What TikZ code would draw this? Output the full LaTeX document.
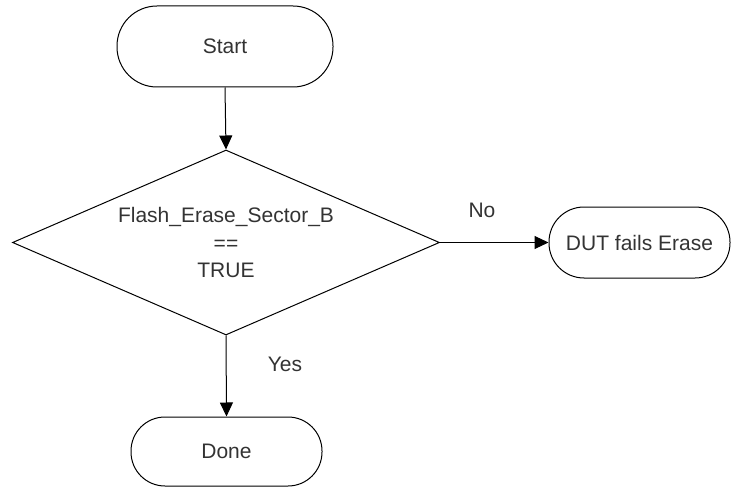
\documentclass[tikz,border=0pt]{standalone}
\usepackage{fontspec}
\setmainfont{Liberation Sans}
\usetikzlibrary{shapes.geometric,arrows.meta}
\definecolor{txt}{HTML}{333333}
\tikzset{
  term/.style={draw=black, line width=1pt, rounded corners=34pt, inner sep=0pt,
    font=\fontsize{21}{25.5}\selectfont, text=txt},
  decide/.style={draw=black, line width=1pt, shape=diamond, aspect=2.31, inner sep=0pt,
    minimum width=427pt, minimum height=185pt, align=center,
    font=\fontsize{21}{27.5}\selectfont, text=txt},
  conn/.style={draw=black, line width=1pt, -{Triangle[length=14pt,width=13pt]}},
  lbl/.style={font=\fontsize{21}{25}\selectfont, text=txt, inner sep=0pt}
}
\begin{document}
\begin{tikzpicture}[x=1pt,y=-1pt]
\useasboundingbox (0,0) rectangle (732,487);
\node[term, minimum width=216pt, minimum height=81pt, rounded corners=40pt] (start) at (225,46.5) {Start};
\node[decide] (dec) at (226,242.5) {Flash\_Erase\_Sector\_B\\==\\TRUE};
\node[term, minimum width=181pt, minimum height=71pt, rounded corners=35pt] (fail) at (639.5,242.5) {DUT fails Erase};
\node[term, minimum width=191pt, minimum height=69pt, rounded corners=34pt] (done) at (226.5,451.5) {Done};
\draw[conn] (start.south) -- (dec.north);
\draw[conn] (dec.east) -- (fail.west);
\draw[conn] (dec.south) -- (done.north);
\node[lbl] (no) at (482,210) {No};
\node[lbl] (yes) at (285,364) {Yes};
\end{tikzpicture}
\end{document}
